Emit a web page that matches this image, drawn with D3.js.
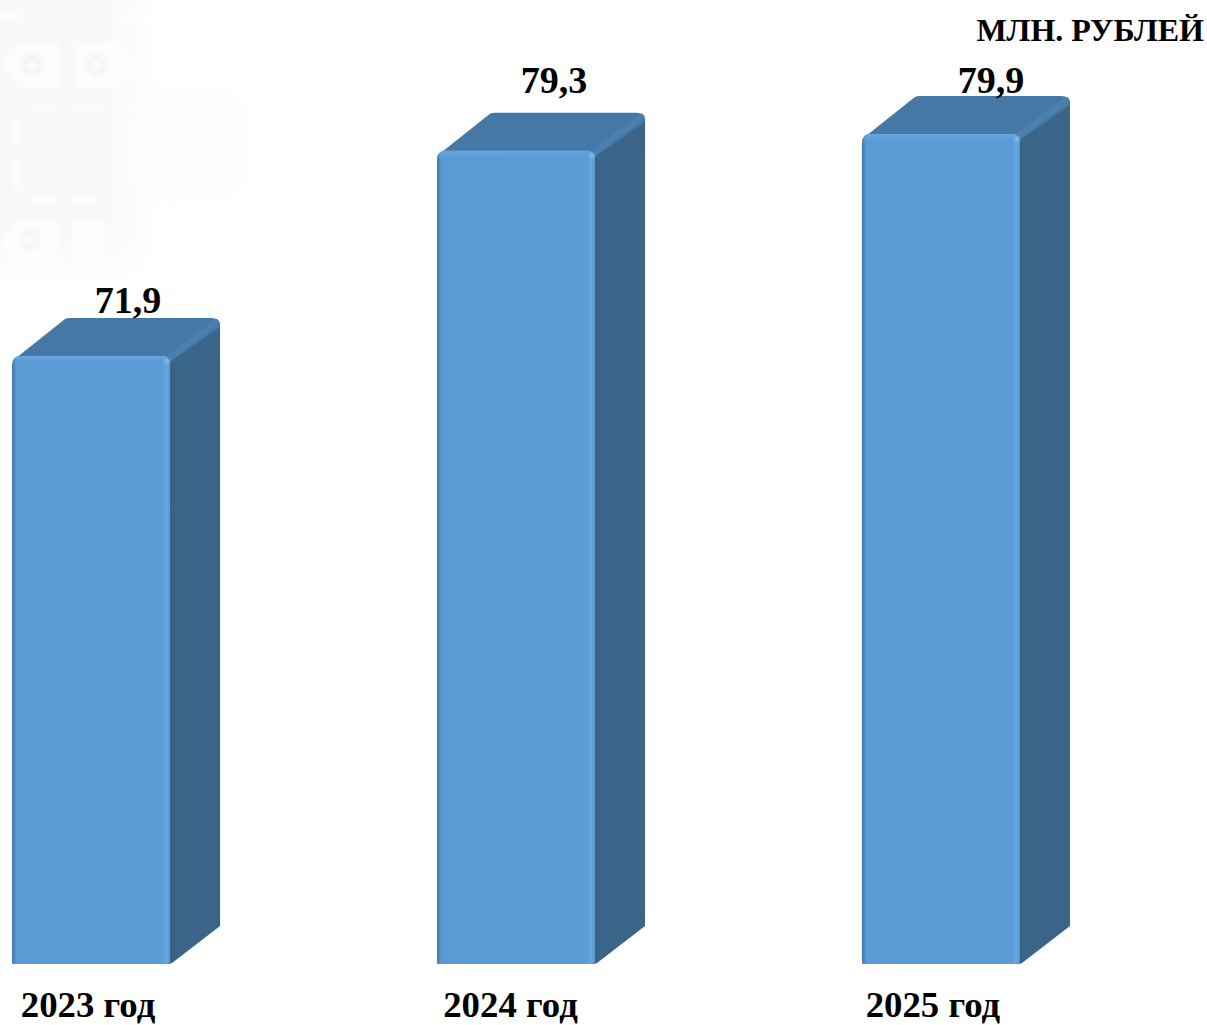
<!DOCTYPE html>
<html lang="ru">
<head>
<meta charset="UTF-8">
<title>Млн. рублей</title>
<style>
    html, body { margin: 0; padding: 0; background: #fff; }
    svg { display: block; }
    text { font-family: 'Liberation Serif', serif; font-weight: 700; fill: #000; }
</style>
</head>
<body>
<div id="chart"></div>
<script src="https://d3js.org/d3.v7.min.js"></script>
<script>
const categories = ["2023 год", "2024 год", "2025 год"];
const values = [71.9, 79.3, 79.9];
const valueLabels = ["71,9", "79,3", "79,9"];
const unitLabel = "МЛН. РУБЛЕЙ";

const width = 1207, height = 1025;
const depthX = 50, depthY = 38, r = 9;

const svg = d3.select("#chart").append("svg")
    .attr("width", width)
    .attr("height", height);

const x = d3.scaleBand()
    .domain(categories)
    .range([12, 1020])
    .paddingInner(0.628)
    .paddingOuter(0);

// value axis of the original starts at 50, it is hidden
const y = d3.scaleLinear()
    .domain([50, 79.9])
    .range([964, 134]);

const defs = svg.append("defs");

function gradient(id, dir, stops) {
    const g = defs.append("linearGradient").attr("id", id)
        .attr("x1", 0).attr("y1", 0)
        .attr("x2", dir === "h" ? 1 : 0).attr("y2", dir === "h" ? 0 : 1);
    stops.forEach(s => g.append("stop").attr("offset", s[0]).attr("stop-color", s[1]).attr("stop-opacity", s[2] === undefined ? 1 : s[2]));
}

gradient("front", "h", [[0, "#4378aa"], [0.03, "#5b9bd5"], [0.95, "#5c9cd6"], [0.975, "#66a8e2"], [1, "#5a98cf"]]);
gradient("bevelTop", "v", [[0, "#67a8e1"], [1, "#5b9bd5", 0]]);
gradient("sideShade", "h", [[0, "#2f597f"], [0.12, "#3a6589"], [1, "#3a6589"]]);

const blur = defs.append("filter").attr("id", "soft")
    .attr("x", "-10%").attr("y", "-10%").attr("width", "120%").attr("height", "120%");
blur.append("feGaussianBlur").attr("stdDeviation", 2.5);
const blurWide = defs.append("filter").attr("id", "softWide")
    .attr("x", "-30%").attr("y", "-30%").attr("width", "160%").attr("height", "160%");
blurWide.append("feGaussianBlur").attr("stdDeviation", 18);
const blurSmall = defs.append("filter").attr("id", "softSmall")
    .attr("x", "-100%").attr("y", "-100%").attr("width", "300%").attr("height", "300%");
blurSmall.append("feGaussianBlur").attr("stdDeviation", 1.2);

// faint watermark in the top left corner
const wm = svg.append("g").attr("class", "watermark");
wm.append("rect").attr("x", -30).attr("y", -30).attr("width", 160).attr("height", 290)
    .attr("fill", "#f8f8f8").attr("filter", "url(#softWide)");
wm.append("rect").attr("x", 135).attr("y", 95).attr("width", 105).attr("height", 100)
    .attr("fill", "#fdfdfd").attr("filter", "url(#softWide)");
const wmInner = wm.append("g").attr("filter", "url(#soft)").attr("opacity", 0.75);
wmInner.selectAll(".plate")
    .data([
        "M0,62 L20,42 L58,42 L58,88 L20,88 Z",
        "M74,42 L118,42 L136,65 L118,88 L74,88 Z",
        "M0,240 L18,222 L58,222 L58,272 L18,272 Z",
        "M72,222 L105,222 L105,272 L72,272 Z"
    ])
    .join("path").attr("class", "plate").attr("d", d => d).attr("fill", "#fff");
wmInner.selectAll(".hole")
    .data([[32, 65, "#efefef"], [97, 65, "#f0f0f0"], [30, 240, "#f3f3f3"]])
    .join("circle").attr("class", "hole")
    .attr("cx", d => d[0]).attr("cy", d => d[1]).attr("r", 8)
    .attr("fill", "none").attr("stroke", d => d[2]).attr("stroke-width", 5);
wmInner.selectAll(".bar-mark")
    .data([[14, 120, 7, 26], [14, 160, 7, 30], [30, 104, 28, 6], [72, 104, 30, 6], [30, 198, 26, 6], [72, 198, 26, 6], [0, 12, 22, 8], [112, 14, 50, 8]])
    .join("rect").attr("class", "bar-mark")
    .attr("x", d => d[0]).attr("y", d => d[1]).attr("width", d => d[2]).attr("height", d => d[3])
    .attr("fill", "#fff");

const bars = svg.selectAll(".bar")
    .data(categories.map((c, i) => ({ c, v: values[i], label: valueLabels[i] })))
    .join("g").attr("class", "bar");

const bw = x.bandwidth();
const base = y(50);

// side face
bars.append("path")
    .attr("d", d => {
        const l = x(d.c) + bw, t = y(d.v);
        return `M${l - 4},${t + 4} L${l + depthX - 6},${t - depthY + 2} Q${l + depthX},${t - depthY} ${l + depthX},${t - depthY + 8}` +
            ` L${l + depthX},${base - depthY} L${l + 2},${base - 1} Q${l},${base} ${l - 4},${base} Z`;
    })
    .attr("fill", "url(#sideShade)");

// top face
bars.append("path")
    .attr("d", d => {
        const l = x(d.c), t = y(d.v);
        return `M${l + 4},${t + 2} L${l + depthX + 3},${t - depthY + 1} Q${l + depthX + 5},${t - depthY} ${l + depthX + 8},${t - depthY}` +
            ` L${l + bw + depthX - r},${t - depthY} Q${l + bw + depthX},${t - depthY} ${l + bw + depthX},${t - depthY + r} L${l + bw},${t + 6} Z`;
    })
    .attr("fill", "#4678a6");

// lit edge between top and side
bars.append("line")
    .attr("x1", d => x(d.c) + bw)
    .attr("y1", d => y(d.v) + 1)
    .attr("x2", d => x(d.c) + bw + depthX - 4)
    .attr("y2", d => y(d.v) - depthY + 4)
    .attr("stroke", "#4a80ae").attr("stroke-width", 6).attr("stroke-linecap", "round");

// front face
bars.append("path")
    .attr("d", d => {
        const l = x(d.c), t = y(d.v);
        return `M${l + 1},${base} Q${l},${base} ${l},${base - 2} L${l},${t + r} Q${l},${t} ${l + r},${t} L${l + bw - r},${t} Q${l + bw},${t} ${l + bw},${t + r}` +
            ` L${l + bw},${base - 3} Q${l + bw},${base} ${l + bw - 5},${base} Z`;
    })
    .attr("fill", "url(#front)");

bars.append("rect")
    .attr("x", d => x(d.c) + 2)
    .attr("y", d => y(d.v))
    .attr("width", bw - 4)
    .attr("height", 9)
    .attr("rx", 5)
    .attr("fill", "url(#bevelTop)");

// small glint on the front corner
bars.append("circle")
    .attr("cx", d => x(d.c) + bw - 3)
    .attr("cy", d => y(d.v) + 5)
    .attr("r", 2.5)
    .attr("fill", "#7fbdf0")
    .attr("filter", "url(#softSmall)");

// value labels sit a bit off centre in the original
const labelDx = [37, 38, 50];
const labelDy = [-43, -58, -41];

bars.append("text")
    .attr("x", (d, i) => x(d.c) + bw / 2 + labelDx[i])
    .attr("y", (d, i) => y(d.v) + labelDy[i])
    .attr("text-anchor", "middle")
    .attr("font-size", 38)
    .text(d => d.label);

const categoryDx = [-3, -5.5, -8];
bars.append("text")
    .attr("x", (d, i) => x(d.c) + bw / 2 + categoryDx[i])
    .attr("y", 1016.5)
    .attr("text-anchor", "middle")
    .attr("font-size", 36.8)
    .text(d => d.c);

svg.append("text")
    .attr("x", 1204)
    .attr("y", 41)
    .attr("text-anchor", "end")
    .attr("font-size", 32)
    .text(unitLabel);
</script>
</body>
</html>
